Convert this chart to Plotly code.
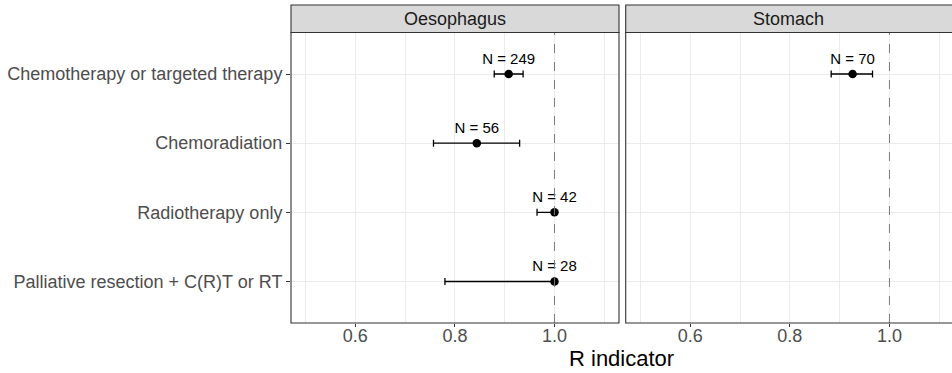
import plotly.graph_objects as go

# ---- data ----
categories = ["Chemotherapy or targeted therapy", "Chemoradiation",
              "Radiotherapy only", "Palliative resection + C(R)T or RT"]

oes_cat = ["Chemotherapy or targeted therapy", "Chemoradiation",
           "Radiotherapy only", "Palliative resection + C(R)T or RT"]
oes_est = [0.908, 0.844, 1.0, 1.0]
oes_low = [0.879, 0.757, 0.965, 0.780]
oes_high = [0.937, 0.930, 1.0, 1.0]
oes_n = [249, 56, 42, 28]

sto_cat = ["Chemotherapy or targeted therapy"]
sto_est = [0.926]
sto_low = [0.883]
sto_high = [0.966]
sto_n = [70]

facets = ["Oesophagus", "Stomach"]
x_title = "R indicator"

W, H = 952, 373
FONT = "Liberation Sans, Arial, sans-serif"

def px(x):
    return x / W

def py(y):
    return 1 - y / H

panel_top, panel_bot = 32.5, 323.0
strip_top = 5.0
left_panel = (291.0, 619.0)
right_panel = (625.7, 952.0)
xr_left = [0.4708, 1.1296]
xr_right = [0.4704, 1.1256]

fig = go.Figure()

def add_series(cat, est, low, high, n, xa, ya):
    fig.add_trace(go.Scatter(
        x=est, y=cat, mode="markers+text",
        text=[f"N = {v}" for v in n],
        textposition="top center",
        textfont=dict(family=FONT, size=15, color="black"),
        marker=dict(color="black", size=8.5),
        error_x=dict(type="data", symmetric=False,
                     array=[h - e for h, e in zip(high, est)],
                     arrayminus=[e - l for e, l in zip(est, low)],
                     color="black", thickness=1.3, width=3.5),
        xaxis=xa, yaxis=ya, showlegend=False, cliponaxis=False,
    ))

add_series(oes_cat, oes_est, oes_low, oes_high, oes_n, "x", "y")
add_series(sto_cat, sto_est, sto_low, sto_high, sto_n, "x2", "y2")

xcommon = dict(
    tick0=0.6, dtick=0.2, showgrid=True, gridcolor="#ebebeb", gridwidth=1.1,
    minor=dict(dtick=0.1, tick0=0.5, showgrid=True, gridcolor="#ebebeb", gridwidth=0.55),
    ticks="outside", ticklen=3, tickcolor="#333333", tickwidth=1,
    tickfont=dict(family=FONT, size=18, color="#4d4d4d"),
    ticklabelstandoff=-7,
    tickformat=".1f", zeroline=False, showline=False,
)
ycommon = dict(
    type="category", categoryorder="array", categoryarray=categories[::-1],
    range=[-0.6, 3.6], showgrid=True, gridcolor="#ebebeb", gridwidth=1.1,
    zeroline=False, showline=False,
    domain=[py(panel_bot), py(panel_top)],
)

fig.update_layout(
    width=W, height=H, margin=dict(l=0, r=0, t=0, b=0),
    paper_bgcolor="white", plot_bgcolor="white",
    xaxis=dict(xcommon, domain=[px(left_panel[0]), px(left_panel[1])], range=xr_left, anchor="y"),
    xaxis2=dict(xcommon, domain=[px(right_panel[0]), px(right_panel[1])], range=xr_right, anchor="y2"),
    yaxis=dict(ycommon, anchor="x", ticks="outside", ticklen=4, tickcolor="#333333",
               tickfont=dict(family=FONT, size=18, color="#4d4d4d")),
    yaxis2=dict(ycommon, anchor="x2", showticklabels=False, matches="y"),
)

shapes = []
annotations = []
for (x0, x1), name, xref in [(left_panel, facets[0], "x"),
                             (right_panel, facets[1], "x2")]:
    xe = x1 + 1 if name == "Stomach" else x1
    # dashed reference line at 1.0
    shapes.append(dict(type="line", xref=xref, yref="paper", x0=1.0, x1=1.0,
                       y0=py(panel_bot), y1=py(panel_top),
                       line=dict(color="#7a7a7a", width=1, dash="dash"), layer="above"))
    # panel border
    shapes.append(dict(type="rect", xref="paper", yref="paper",
                       x0=px(x0), x1=px(xe),
                       y0=py(panel_bot), y1=py(panel_top),
                       line=dict(color="#333333", width=1.1), fillcolor="rgba(0,0,0,0)",
                       layer="above"))
    # strip
    shapes.append(dict(type="rect", xref="paper", yref="paper",
                       x0=px(x0), x1=px(xe),
                       y0=py(panel_top), y1=py(strip_top),
                       line=dict(color="#333333", width=1.1), fillcolor="#d9d9d9",
                       layer="above"))
    annotations.append(dict(text=name, xref="paper", yref="paper",
                            x=px((x0 + x1) / 2), y=py((strip_top + panel_top) / 2),
                            xanchor="center", yanchor="middle", showarrow=False,
                            font=dict(family=FONT, size=18, color="#1a1a1a")))

annotations.append(dict(text=x_title, xref="paper", yref="paper",
                        x=px((left_panel[0] + right_panel[1]) / 2), y=py(358.0),
                        xanchor="center", yanchor="middle", showarrow=False,
                        font=dict(family=FONT, size=22, color="black")))

fig.update_layout(shapes=shapes, annotations=annotations)
fig.write_html("out.html")
